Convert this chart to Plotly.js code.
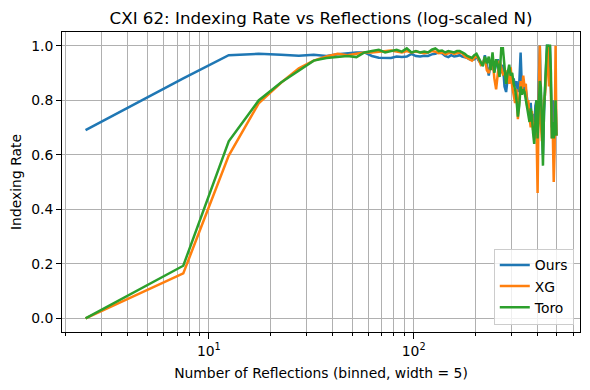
<!DOCTYPE html>
<html>
<head>
<meta charset="utf-8">
<script src="https://cdn.plot.ly/plotly-3.0.1.min.js"></script>
<style>
  html, body { margin: 0; padding: 0; background: #fff; }
  #plot { width: 590px; height: 390px; }
</style>
</head>
<body>
<div id="plot"></div>
<script>
// CXI 62 indexing rate per reflection-count bin (bin width = 5)

const binCenters = [
    2.5, 7.5, 12.5, 17.5, 22.5, 27.5, 32.5, 37.5, 42.5, 47.5,
    52.5, 57.5, 62.5, 67.5, 72.5, 77.5, 82.5, 87.5, 92.5, 97.5,
    102.5, 107.5, 112.5, 117.5, 122.5, 127.5, 132.5, 137.5, 142.5, 147.5,
    152.5, 157.5, 162.5, 167.5, 172.5, 177.5, 182.5, 187.5, 192.5, 197.5,
    202.5, 207.5, 212.5, 217.5, 222.5, 227.5, 232.5, 237.5, 242.5, 247.5,
    252.5, 257.5, 262.5, 267.5, 272.5, 277.5, 282.5, 287.5, 292.5, 297.5,
    302.5, 307.5, 312.5, 317.5, 322.5, 327.5, 332.5, 337.5, 342.5, 347.5,
    352.5, 357.5, 362.5, 367.5, 372.5, 377.5, 382.5, 387.5, 392.5, 397.5,
    402.5, 407.5, 412.5, 417.5, 422.5, 427.5, 432.5, 437.5, 442.5, 447.5,
    452.5, 457.5, 462.5, 467.5, 472.5, 477.5, 482.5, 487.5, 492.5, 497.5
];

const oursRate = [
    0.69, 0.88, 0.965, 0.97, 0.967, 0.963, 0.967, 0.962, 0.968, 0.972,
    0.975, 0.975, 0.962, 0.956, 0.955, 0.955, 0.96, 0.958, 0.96, 0.97,
    0.962, 0.96, 0.963, 0.962, 0.968, 0.97, 0.975, 0.972, 0.962, 0.958,
    0.965, 0.96, 0.962, 0.965, 0.96, 0.958, 0.955, 0.95, 0.948, 0.95,
    0.96, 0.945, 0.935, 0.93, 0.965, 0.93, 0.89, 0.935, 0.92, 0.905,
    0.93, 0.95, 0.91, 0.9, 0.93, 0.85, 0.83, 0.88, 0.9, 0.87,
    0.86, 0.88, 0.85, 0.87, 0.83, 0.86, 0.975, 0.84, 0.86, 0.83,
    0.84, 0.8, 0.76, 0.74, 0.79, 0.72, 0.75, 0.66, 0.78, 0.8,
    0.7, 0.85, 1.0, 0.82, 0.7, 0.6, 0.75, 0.85, 0.95, 1.0,
    1.0, 0.9, 1.0, 0.85, 0.7, 0.8, 0.66, 0.75, 0.8, 0.67
];

const xgRate = [
    0.0, 0.165, 0.597, 0.788, 0.864, 0.917, 0.945, 0.96, 0.97, 0.965,
    0.97, 0.975, 0.975, 0.978, 0.98, 0.982, 0.978, 0.975, 0.98, 0.975,
    0.978, 0.975, 0.972, 0.975, 0.98, 0.978, 0.972, 0.975, 0.968, 0.972,
    0.975, 0.97, 0.972, 0.975, 0.972, 0.96, 0.955, 0.95, 0.945, 0.955,
    0.962, 0.95, 0.93, 0.935, 0.955, 0.91, 0.9, 0.93, 0.95, 0.88,
    0.84, 0.9, 0.945, 0.92, 0.895, 0.9, 0.88, 0.91, 0.86, 0.92,
    0.85, 0.82, 0.79, 0.84, 0.73, 0.8, 0.87, 0.83, 0.89, 0.85,
    0.86, 0.78, 0.8, 0.74, 0.7, 0.76, 0.69, 0.72, 0.66, 0.7,
    0.46, 0.8, 1.0, 0.72, 0.65, 0.72, 0.8, 0.82, 0.9, 0.95,
    1.0, 0.85, 0.92, 0.83, 0.66, 0.68, 0.5, 0.62, 1.0, 0.67
];

const toroRate = [
    0.0, 0.193, 0.649, 0.799, 0.865, 0.91, 0.945, 0.955, 0.96, 0.962,
    0.958, 0.975, 0.98, 0.985, 0.975, 0.98, 0.985, 0.978, 0.99, 0.975,
    0.98, 0.975, 0.978, 0.975, 0.985, 0.99, 0.98, 0.982, 0.975, 0.98,
    0.978, 0.975, 0.98, 0.98, 0.975, 0.97, 0.962, 0.958, 0.955, 0.965,
    0.97, 0.955, 0.94, 0.925, 0.96, 0.935, 0.96, 0.91, 0.975, 0.9,
    0.95, 0.93, 0.885, 0.99, 0.99, 0.93, 0.86, 0.9, 0.93, 0.89,
    0.9, 0.86, 0.84, 0.8, 0.74, 0.78, 0.85, 0.82, 0.84, 0.83,
    0.8, 0.77, 0.75, 0.72, 0.77, 0.74, 0.68, 0.64, 0.72, 0.8,
    0.66, 0.82, 0.87, 0.85, 0.7, 0.56, 0.76, 0.89, 0.93, 1.0,
    1.0, 1.0, 1.0, 0.9, 0.66, 0.72, 0.66, 0.7, 0.8, 0.67
];

const seriesNames = ['Ours', 'XG', 'Toro'];
const seriesColors = ['#1f77b4', '#ff7f0e', '#2ca02c'];

const majorTicks = [10, 100];
const majorLabels = ['10<sup>1</sup>', '10<sup>2</sup>'];
const minorTicks = [2, 3, 4, 5, 6, 7, 8, 9, 20, 30, 40, 50, 60, 70, 80, 90, 200, 300, 400, 500, 600];
const yTicks = [0, 0.2, 0.4, 0.6, 0.8, 1.0];

// matplotlib-like 5% padding on the log axis
const lo = Math.log10(Math.min(...binCenters));
const hi = Math.log10(Math.max(...binCenters));
const pad = 0.05 * (hi - lo);

const data = [oursRate, xgRate, toroRate].map((ys, i) => ({
    x: binCenters,
    y: ys,
    type: 'scatter',
    mode: 'lines',
    name: seriesNames[i],
    line: { color: seriesColors[i], width: 2.5 }
}));

const gridColor = '#b0b0b0';
const font = { family: 'DejaVu Sans, sans-serif', size: 13.9, color: '#000' };

const layout = {
    width: 590,
    height: 390,
    paper_bgcolor: '#fff',
    plot_bgcolor: '#fff',
    font: font,
    margin: { l: 62, r: 10, t: 32, b: 58 },
    title: {
        text: 'CXI 62: Indexing Rate vs Reflections (log-scaled N)',
        font: { family: 'DejaVu Sans, sans-serif', size: 16.7, color: '#000' },
        x: 0.5, xref: 'paper', xanchor: 'center',
        y: 1, yref: 'paper', yanchor: 'bottom', pad: { b: 8 }
    },
    xaxis: {
        type: 'log',
        range: [lo - pad, hi + pad],
        tickvals: majorTicks,
        ticktext: majorLabels,
        ticks: 'outside', ticklen: 6, tickwidth: 1, tickcolor: '#000',
        showline: true, mirror: true, linecolor: '#000', linewidth: 1,
        showgrid: true, gridcolor: gridColor, gridwidth: 1,
        zeroline: false,
        minor: {
            tickvals: minorTicks,
            ticks: 'outside', ticklen: 3, tickwidth: 1, tickcolor: '#000',
            showgrid: true, gridcolor: gridColor, gridwidth: 1
        },
        title: { text: 'Number of Reflections (binned, width = 5)', font: font, standoff: 10 },
        automargin: false
    },
    yaxis: {
        range: [-0.05, 1.05],
        tickvals: yTicks,
        tickformat: '.1f',
        ticks: 'outside', ticklen: 5, tickwidth: 1, tickcolor: '#000',
        showline: true, mirror: true, linecolor: '#000', linewidth: 1,
        showgrid: true, gridcolor: gridColor, gridwidth: 1,
        zeroline: false,
        title: { text: 'Indexing Rate', font: font, standoff: 6 },
        automargin: false
    },
    legend: {
        x: 0.988, xanchor: 'right',
        y: 0.025, yanchor: 'bottom',
        bgcolor: 'rgba(255,255,255,0.8)',
        bordercolor: '#cccccc', borderwidth: 1,
        font: font,
        tracegroupgap: 0
    },
    showlegend: true
};

Plotly.newPlot('plot', data, layout, { displayModeBar: false, staticPlot: true });
</script>
</body>
</html>
